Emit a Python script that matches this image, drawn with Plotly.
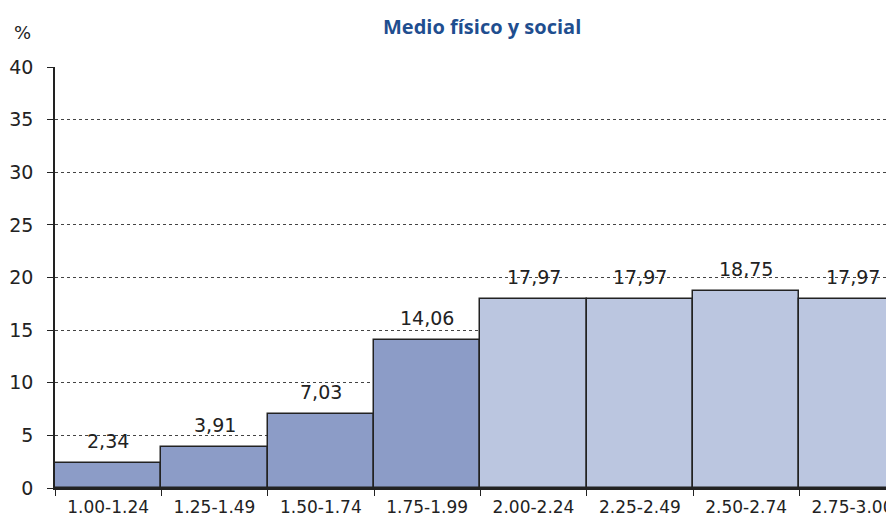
import plotly.graph_objects as go

categories = ["1.00-1.24", "1.25-1.49", "1.50-1.74", "1.75-1.99",
              "2.00-2.24", "2.25-2.49", "2.50-2.74", "2.75-3.00"]
values = [2.34, 3.91, 7.03, 14.06, 17.97, 17.97, 18.75, 17.97]
y_ticks = [0, 5, 10, 15, 20, 25, 30, 35, 40]
dark = "#8C9CC7"
light = "#BBC6E0"
colors = [dark] * 4 + [light] * 4

W, H = 886, 511          # page has an 8px body margin
L, T, B, R = 47, 59, 31, 0
PW, PH = W - L - R, H - T - B


def px(x, y):
    """figure pixel -> paper coords"""
    return (x - L) / PW, (H - y - B) / PH


fig = go.Figure(go.Bar(
    x=categories, y=values,
    marker=dict(color=colors, line=dict(color="#222222", width=1.5)),
    width=1.0,
    hoverinfo="x+y",
))

annotations = []
for c, v in zip(categories, values):
    annotations.append(dict(
        x=c, y=v, xref="x", yref="y", text=f"{v:.2f}".replace(".", ","),
        showarrow=False, yanchor="bottom", yshift=9,
        font=dict(family="DejaVu Sans", size=19, color="#222222"),
    ))

tx, ty = px(482 - 8, 27 - 8)
annotations.append(dict(text="<b>Medio físico y social</b>", x=tx, y=ty,
                        xref="paper", yref="paper", showarrow=False,
                        xanchor="center", yanchor="middle",
                        font=dict(family="Open Sans", size=20, color="#1F4E8F")))
pxx, pyy = px(22 - 8, 33 - 8)
annotations.append(dict(text="%", x=pxx, y=pyy, xref="paper", yref="paper",
                        showarrow=False, xanchor="center", yanchor="middle",
                        font=dict(family="DejaVu Sans", size=18, color="#222222")))

fig.update_layout(
    width=W, height=H,
    margin=dict(l=L, r=R, t=T, b=B, autoexpand=False),
    paper_bgcolor="white", plot_bgcolor="white",
    showlegend=False,
    bargap=0,
    font=dict(family="DejaVu Sans", color="#222222"),
    xaxis=dict(
        type="category", range=[-0.5, 7.39], automargin=False,
        showline=True, linecolor="#222222", linewidth=1.5,
        ticks="outside", tickson="boundaries", ticklen=6, tickcolor="#222222",
        tickfont=dict(size=17, color="#222222"),
        ticklabelstandoff=3,
        showgrid=False,
    ),
    yaxis=dict(
        range=[0, 40], tickvals=y_ticks, automargin=False,
        showline=True, linecolor="#222222", linewidth=1.5,
        ticks="outside", ticklen=6, tickcolor="#222222",
        tickfont=dict(size=19, color="#222222"),
        ticklabelstandoff=10,
        showgrid=True, gridcolor="#444444", griddash="dot", gridwidth=1,
        zeroline=False,
    ),
    annotations=annotations,
)

fig.write_html("out.html")
